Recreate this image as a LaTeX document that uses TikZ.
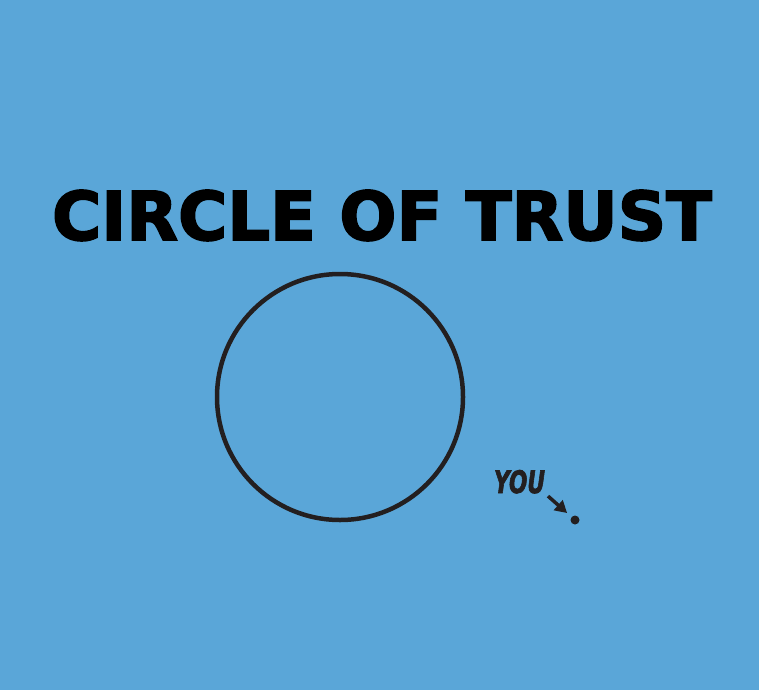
\documentclass[tikz,border=0pt]{standalone}
\usepackage{fontspec}
\setmainfont{DejaVu Sans}
\newfontfamily\heavyfont{DejaVu Sans Bold}[FakeBold=2.5]
\usepackage{tikz}
\usetikzlibrary{arrows.meta, positioning}

\definecolor{skyblue}{HTML}{5AA6D8}
\definecolor{ink}{HTML}{231F20}

\begin{document}
\begin{tikzpicture}[
    x=1pt, y=-1pt,
    every node/.style={inner sep=0pt, outer sep=0pt},
    title/.style ={anchor=north west, text=black},
    ring/.style  ={circle, draw=ink, line width=4.5pt, minimum size=246pt},
    label/.style ={anchor=north west, text=ink},
    spot/.style  ={circle, fill=ink, minimum size=9pt},
    pointer/.style={draw=ink, line width=3.5pt, -{Triangle[length=12pt,width=13pt]}}
]
% background
\fill[skyblue] (0,0) rectangle (759,690);
\useasboundingbox (0,0) rectangle (759,690);

\node [title] (heading) at (52,190)
    {\resizebox{660pt}{50pt}{\heavyfont CIRCLE OF TRUST}};
\node [ring] (trust) at (340,397) {};
\node [label] (you) at (494,470)
    {\resizebox{51pt}{23pt}{\heavyfont\itshape YOU}};
\node [spot] (me) at (575,520) {};
\draw [pointer, shorten <=4pt, shorten >=6pt] (you.south east) -- (me);
\end{tikzpicture}
\end{document}
